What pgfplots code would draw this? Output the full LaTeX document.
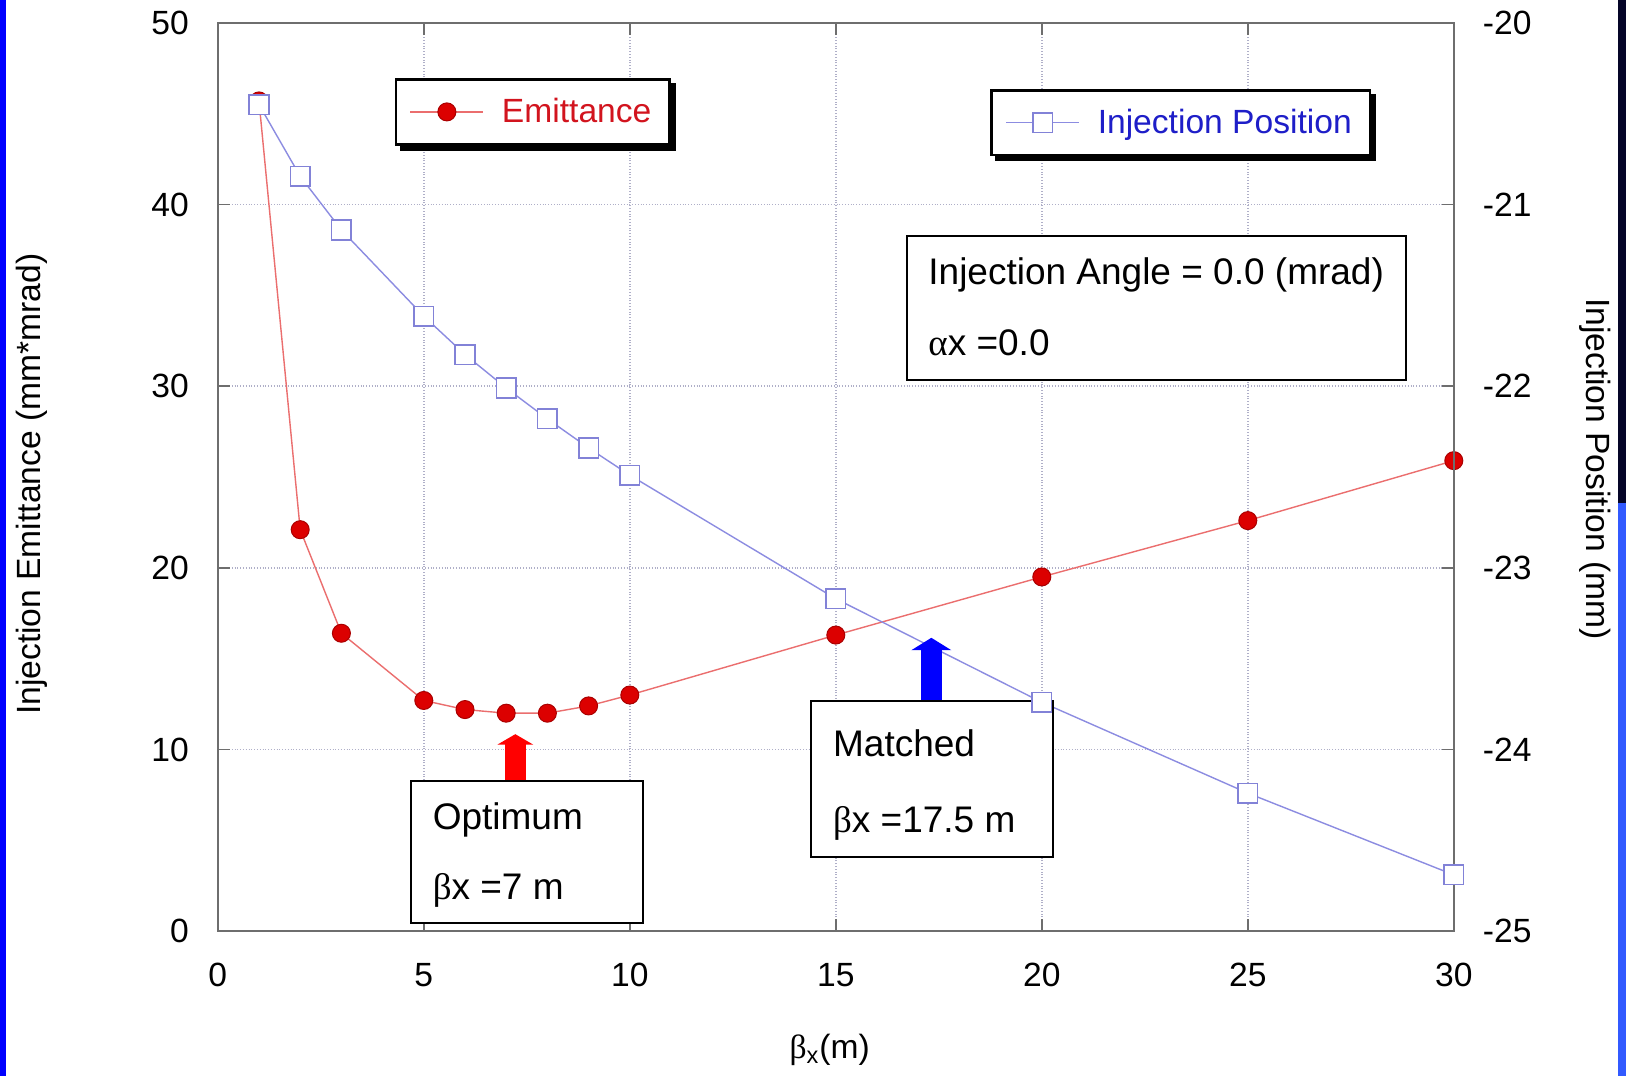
\documentclass[border=0pt]{standalone}
\usepackage{fontspec}
\setmainfont{Liberation Sans}
\newfontfamily\symf{Liberation Serif}
\usepackage{pgfplots}
\usepackage{pgfplotstable}
\pgfplotsset{compat=1.18}
\usetikzlibrary{arrows.meta}

\definecolor{emitline}{RGB}{235,110,110}
\definecolor{emitmark}{RGB}{220,0,0}
\definecolor{emitdraw}{RGB}{170,0,0}
\definecolor{posline}{RGB}{140,140,225}
\definecolor{posmark}{RGB}{130,130,215}
\definecolor{gridc}{RGB}{175,175,200}
\definecolor{axc}{RGB}{110,110,110}
\definecolor{legred}{RGB}{210,20,30}
\definecolor{legblue}{RGB}{30,30,200}
\definecolor{navy}{RGB}{5,5,40}
\definecolor{sideblue}{RGB}{50,90,255}

\pgfplotstableread{
x y
1 45.7
2 22.1
3 16.4
5 12.7
6 12.2
7 12.0
8 12.0
9 12.4
10 13.0
15 16.3
20 19.5
25 22.6
30 25.9
}\emit

\pgfplotstableread{
x y
1 -20.45
2 -20.845
3 -21.14
5 -21.615
6 -21.826
7 -22.01
8 -22.18
9 -22.34
10 -22.49
15 -23.17
20 -23.74
25 -24.24
30 -24.69
}\pos

\begin{document}
\begin{tikzpicture}
\fill[white] (-108.9pt,-72.4pt) rectangle (704.1pt,465.6pt);
\fill[blue] (-108.9pt,-72.4pt) rectangle (-105.9pt,465.6pt);
\fill[navy] (700.1pt,214.1pt) rectangle (704.1pt,465.6pt);
\fill[sideblue] (700.1pt,-72.4pt) rectangle (704.1pt,214.1pt);
\useasboundingbox (-108.9pt,-72.4pt) rectangle (704.1pt,465.6pt);

\pgfplotsset{
  myaxis/.style={
    scale only axis, width=618pt, height=454.2pt,
    xmin=0, xmax=30,
    font=\fontsize{16.8}{20}\selectfont,
    axis line style={axc, line width=0.9pt},
    tick style={axc, line width=0.8pt},
    major tick length=6pt,
    legend image code/.code={
      \draw[mark repeat=2,mark phase=2,##1] plot coordinates {(0cm,0cm)(0.64cm,0cm)(1.28cm,0cm)};
    },
    legend cell align=left,
  },
  myleg/.style={
    draw=black, line width=1.2pt,
    fill=white, inner xsep=7pt, inner ysep=7.4pt,
    font=\fontsize{16.8}{20}\selectfont,
  },
}

\begin{axis}[myaxis,
  ymin=0, ymax=50,
  xtick={0,5,...,30}, ytick={0,10,...,50},
  xmajorgrids, ymajorgrids,
  grid style={gridc, densely dotted, line width=0.7pt},
  yticklabel style={xshift=-11pt, /pgf/number format/assume math mode=true},
  xticklabel style={yshift=-12.5pt, /pgf/number format/assume math mode=true},
  xlabel={{\symf β}\textsubscript{x}(m)},
  ylabel={Injection Emittance (mm*mrad)},
  every axis x label/.style={at={(axis description cs:0.495,-0.1396)}, anchor=base},
  every axis y label/.style={at={(axis description cs:-0.1503,0.492)}, rotate=90, anchor=center},
  legend style={myleg, name=legA, at={(0.143,0.939)}, anchor=north west, text=legred},
]
\addplot[emitline, line width=0.7pt, mark=*, mark size=4.5pt,
  mark options={fill=emitmark, draw=emitdraw, line width=0.5pt}] table[x=x,y=y]{\emit};
\addlegendentry{\hspace{7pt}Emittance}
\end{axis}

\begin{axis}[myaxis,
  ymin=-25, ymax=-20,
  axis x line=none, axis y line*=right,
  ytick={-25,-24,-23,-22,-21,-20},
  yticklabels={-25,-24,-23,-22,-21,-20},
  yticklabel style={xshift=11pt},
  ylabel={Injection Position (mm)},
  every axis y label/.style={at={(axis description cs:1.1142,0.5088)}, rotate=-90, anchor=center},
  legend style={myleg, name=legB, at={(0.625,0.927)}, anchor=north west, text=legblue},
]
\addplot[posline, line width=0.7pt, mark=square*, mark size=4.9pt,
  mark options={fill=white, draw=posmark, line width=0.8pt}] table[x=x,y=y]{\pos};
\addlegendentry{\hspace{7pt}Injection Position}

% arrows
\draw[red, line width=10.4pt, -{Triangle[width=17.6pt,length=5.2pt]}]
  (rel axis cs:0.2407,0.1653) -- (rel axis cs:0.2407,0.2169);
\draw[blue, line width=10.4pt, -{Triangle[width=19.7pt,length=6.2pt]}]
  (rel axis cs:0.5773,0.2534) -- (rel axis cs:0.5773,0.323);

% boxes
\draw[black, line width=1pt, fill=white] (rel axis cs:0.5576,0.6068) rectangle (rel axis cs:0.9613,0.7653);
\node[anchor=base west, yshift=-6.6pt, inner sep=0pt, font=\fontsize{18.5}{22}\selectfont]
  at (rel axis cs:0.5746,0.726) {Injection Angle = 0.0 (mrad)};
\node[anchor=base west, yshift=-6.6pt, inner sep=0pt, font=\fontsize{18.5}{22}\selectfont]
  at (rel axis cs:0.5746,0.6486) {{\symf α}x =0.0};

\draw[black, line width=1pt, fill=white] (rel axis cs:0.1563,0.009) rectangle (rel axis cs:0.3439,0.1653);
\node[anchor=base west, yshift=-6.6pt, inner sep=0pt, font=\fontsize{18.5}{22}\selectfont]
  at (rel axis cs:0.1736,0.1268) {Optimum};
\node[anchor=base west, yshift=-6.6pt, inner sep=0pt, font=\fontsize{18.5}{22}\selectfont]
  at (rel axis cs:0.1736,0.0491) {{\symf β}x =7 m};

\draw[black, line width=1pt, fill=white] (rel axis cs:0.4799,0.0817) rectangle (rel axis cs:0.6759,0.2534);
\node[anchor=base west, yshift=-6.6pt, inner sep=0pt, font=\fontsize{18.5}{22}\selectfont]
  at (rel axis cs:0.4975,0.2066) {Matched};
\node[anchor=base west, yshift=-6.6pt, inner sep=0pt, font=\fontsize{18.5}{22}\selectfont]
  at (rel axis cs:0.4975,0.1233) {{\symf β}x =17.5 m};
\end{axis}

% legend shadows (outside the legend boxes)
\foreach \L in {legA,legB}{
  \fill[black] ([xshift=2.5pt]\L.south west) rectangle ([xshift=2.5pt,yshift=-2.5pt]\L.south east);
  \fill[black] ([yshift=-2.5pt]\L.north east) rectangle ([xshift=2.5pt,yshift=-2.5pt]\L.south east);
}
\end{tikzpicture}
\end{document}
